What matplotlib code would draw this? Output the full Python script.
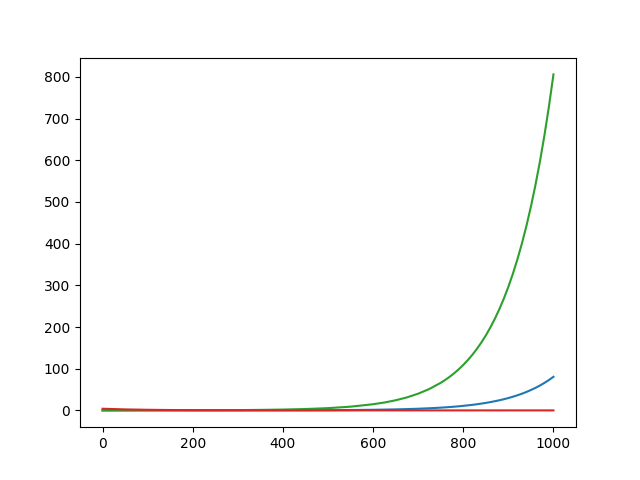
import matplotlib
matplotlib.use("Agg")
import matplotlib.pyplot as plt

# sample positions (coarse early on, denser near the steep tail)
steps = [0, 50, 100, 150, 200, 250, 300, 350, 400, 450, 500, 550, 600, 625, 650,
         675, 700, 725, 750, 760, 770, 780, 790, 800, 810, 820, 830, 840, 850,
         860, 870, 880, 890, 900, 910, 920, 930, 940, 950, 960, 970, 980, 990, 1000]

green = [0.037, 0.060, 0.099, 0.164, 0.271, 0.447, 0.736, 1.21, 2.00, 3.30, 5.43,
         8.96, 14.8, 18.9, 24.3, 31.2, 40.1, 51.5, 66.2, 73.1, 80.8, 89.3, 98.7,
         109.1, 120.6, 133.2, 147.3, 162.7, 179.9, 198.8, 219.7, 242.8, 268.3,
         296.5, 327.7, 362.2, 400.2, 442.3, 488.9, 540.3, 597.1, 659.9, 729.3, 806.0]
blue = [0.004, 0.006, 0.010, 0.016, 0.027, 0.045, 0.074, 0.12, 0.20, 0.33, 0.54,
        0.90, 1.48, 1.89, 2.43, 3.12, 4.01, 5.15, 6.62, 7.31, 8.08, 8.93, 9.87,
        10.9, 12.1, 13.3, 14.7, 16.3, 18.0, 19.9, 22.0, 24.3, 26.8,
        29.7, 32.8, 36.2, 40.0, 44.2, 48.9, 54.0, 59.7, 66.0, 72.9, 80.6]
red = [4.0, 2.4, 1.47, 0.89, 0.54, 0.33, 0.20, 0.12, 0.073, 0.044, 0.027, 0.016,
       0.010, 0.008, 0.006, 0.005, 0.004, 0.003, 0.003, 0.003, 0.002, 0.002, 0.002,
       0.002, 0.002, 0.002, 0.002, 0.002, 0.001, 0.001, 0.001, 0.001, 0.001,
       0.001, 0.001, 0.001, 0.001, 0.001, 0.001, 0.001, 0.001, 0.001, 0.001, 0.001]

fig, ax = plt.subplots(figsize=(6.4, 4.8), dpi=100)
ax.plot(steps, blue, color="C0")
ax.plot(steps, green, color="C2")
ax.plot(steps, red, color="C3")
fig.savefig("out.png", dpi=100)
